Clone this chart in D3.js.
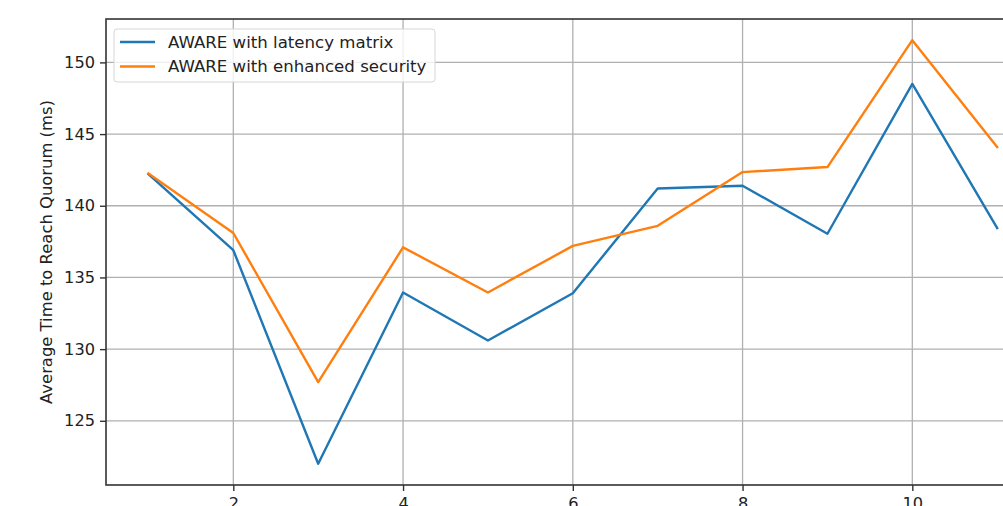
<!DOCTYPE html>
<html>
<head>
<meta charset="utf-8">
<script src="https://cdn.jsdelivr.net/npm/d3@7"></script>
<style>
    body { margin: 0; background: #fff; }
    text { font-family: "DejaVu Sans", sans-serif; fill: #222; }
</style>
</head>
<body>
<div id="chart"></div>
<script>
(function () {

    var width = 1003;
    var height = 506;

    // data
    var runs = [1, 2, 3, 4, 5, 6, 7, 8, 9, 10, 11];
    var latencyMatrix = [142.2, 136.9, 122.0, 133.95, 130.6, 133.9, 141.2, 141.4, 138.05, 148.5, 138.45];
    var enhancedSecurity = [142.25, 138.1, 127.7, 137.1, 133.95, 137.2, 138.6, 142.35, 142.7, 151.55, 144.1];
    var seriesNames = ["AWARE with latency matrix", "AWARE with enhanced security"];
    var colors = ["#1f77b4", "#ff7f0e"];
    var xTicks = [2, 4, 6, 8, 10];
    var yTicks = [125, 130, 135, 140, 145, 150];

    var left = 106, top = 19, bottom = 485;
    var unit = 84.875; // px per run, plot runs past the right edge

    var svg = d3.select("#chart")
        .append("svg")
        .attr("width", width)
        .attr("height", height)

    // matplotlib style 5% margins
    var xMin = d3.min(runs), xMax = d3.max(runs);
    var xPad = (xMax - xMin) * 0.05;
    var x = d3.scaleLinear()
        .domain([xMin - xPad, xMax + xPad])
        .range([left, left + (xMax - xMin + 2 * xPad) * unit])

    var all = latencyMatrix.concat(enhancedSecurity);
    var yMin = d3.min(all), yMax = d3.max(all);
    var yPad = (yMax - yMin) * 0.05;
    var y = d3.scaleLinear()
        .domain([yMin - yPad, yMax + yPad])
        .range([bottom, top])

    var right = x.range()[1];

    // grid
    svg.append("g").selectAll("line")
        .data(xTicks)
        .enter().append("line")
        .attr("x1", function (d) { return x(d) })
        .attr("x2", function (d) { return x(d) })
        .attr("y1", top)
        .attr("y2", bottom)
        .attr("stroke", "#b0b0b0")
        .attr("stroke-width", 1.3)

    svg.append("g").selectAll("line")
        .data(yTicks)
        .enter().append("line")
        .attr("x1", left)
        .attr("x2", right)
        .attr("y1", function (d) { return y(d) })
        .attr("y2", function (d) { return y(d) })
        .attr("stroke", "#b0b0b0")
        .attr("stroke-width", 1.3)

    // lines
    var line = d3.line()
        .x(function (d, i) { return x(runs[i]) })
        .y(function (d) { return y(d) })

    var series = [latencyMatrix, enhancedSecurity];
    series.forEach(function (s, i) {
        svg.append("path")
            .datum(s)
            .attr("d", line)
            .attr("fill", "none")
            .attr("stroke", colors[i])
            .attr("stroke-width", 2.4)
            .attr("stroke-linejoin", "round")
            .attr("stroke-linecap", "square")
    })

    // axes
    var xAxis = d3.axisBottom(x)
        .tickValues(xTicks)
        .tickSize(6)
        .tickPadding(6)
        .tickSizeOuter(0)
    var gx = svg.append("g")
        .attr("transform", "translate(0," + bottom + ")")
        .call(xAxis)

    var yAxis = d3.axisLeft(y)
        .tickValues(yTicks)
        .tickSize(6)
        .tickPadding(5)
        .tickSizeOuter(0)
    var gy = svg.append("g")
        .attr("transform", "translate(" + left + ",0)")
        .call(yAxis)

    ;[gx, gy].forEach(function (g) {
        g.select(".domain").remove();
        g.selectAll(".tick line").attr("stroke", "#333").attr("stroke-width", 1.4);
        g.selectAll(".tick text")
            .attr("font-size", 16.2)
            .attr("font-family", "DejaVu Sans, sans-serif")
            .attr("fill", "#222");
    })

    // spines
    svg.append("rect")
        .attr("x", left)
        .attr("y", top)
        .attr("width", right - left)
        .attr("height", bottom - top)
        .attr("fill", "none")
        .attr("stroke", "#333")
        .attr("stroke-width", 1.6)

    // y label
    svg.append("text")
        .attr("transform", "translate(52," + ((top + bottom) / 2) + ") rotate(-90)")
        .attr("text-anchor", "middle")
        .attr("font-size", 16.4)
        .text("Average Time to Reach Quorum (ms)")

    // legend
    var legend = svg.append("g")
    legend.append("rect")
        .attr("x", 114)
        .attr("y", 29)
        .attr("width", 321)
        .attr("height", 53)
        .attr("rx", 3)
        .attr("fill", "rgba(255,255,255,0.8)")
        .attr("stroke", "#d6d6d6")
        .attr("stroke-width", 1)

    seriesNames.forEach(function (name, i) {
        var ly = 42 + i * 24.5;
        legend.append("line")
            .attr("x1", 120)
            .attr("x2", 155)
            .attr("y1", ly)
            .attr("y2", ly)
            .attr("stroke", colors[i])
            .attr("stroke-width", 2.4)
        legend.append("text")
            .attr("x", 168)
            .attr("y", ly)
            .attr("dy", "0.36em")
            .attr("font-size", 16.6)
            .text(name)
    })

})();
</script>
</body>
</html>
